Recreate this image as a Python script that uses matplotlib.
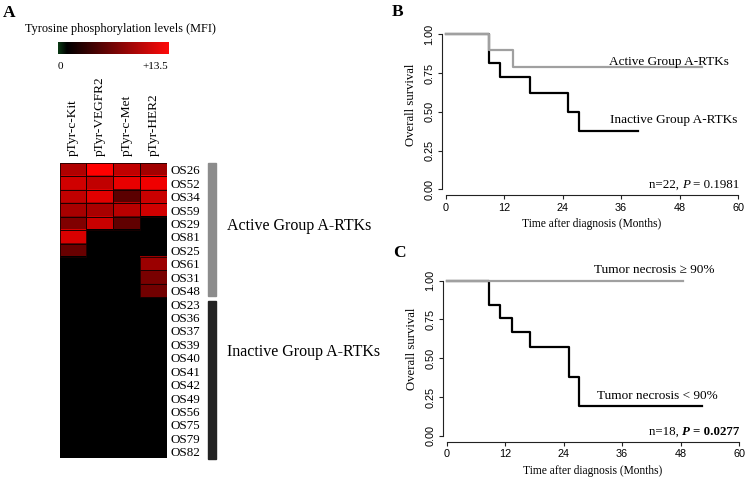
import numpy as np
import matplotlib
matplotlib.use("Agg")
import matplotlib.pyplot as plt
from matplotlib.colors import LinearSegmentedColormap
from matplotlib.patches import Rectangle

plt.rcParams['font.family'] = ['Liberation Serif', 'DejaVu Serif']

# --- panel A data: tyrosine phosphorylation (MFI, 0 .. 13.5)
receptors = ["pTyr-c-Kit", "pTyr-VEGFR2", "pTyr-c-Met", "pTyr-HER2"]
samples = ["OS26", "OS52", "OS34", "OS59", "OS29", "OS81", "OS25", "OS61", "OS31", "OS48",
           "OS23", "OS36", "OS37", "OS39", "OS40", "OS41", "OS42", "OS49", "OS56", "OS75",
           "OS79", "OS82"]
mfi = [
    [9.3, 13.5, 10.2, 8.5],
    [11.0, 10.2, 12.3, 12.7],
    [10.2, 11.9, 4.8, 10.6],
    [8.9, 8.9, 9.8, 11.0],
    [6.8, 10.6, 5.1, 0],
    [11.4, 0, 0, 0],
    [5.5, 0, 0, 0],
    [0, 0, 0, 8.2],
    [0, 0, 0, 6.4],
    [0, 0, 0, 6.0],
] + [[0, 0, 0, 0]] * 12
groups = ["Active Group A-RTKs", "Inactive Group A-RTKs"]
group_sizes = [10, 12]
group_colors = ["#8c8c8c", "#232323"]
mfi_max = 13.5

# --- panel B: Kaplan-Meier by A-RTK group (step times in months, survival)
b_active_t = [0, 8.9, 13.9, 52.7]
b_active_s = [1.0, 0.9, 0.7875, 0.7875]
b_inactive_t = [0, 8.9, 11.1, 17.4, 25.2, 27.4, 39.5]
b_inactive_s = [1.0, 0.818, 0.727, 0.623, 0.497, 0.373, 0.373]

# --- panel C: Kaplan-Meier by tumor necrosis
c_high_t = [0, 48.6]
c_high_s = [1.0, 1.0]
c_low_t = [0, 8.7, 10.9, 13.5, 17.2, 25.0, 27.2, 52.5]
c_low_s = [1.0, 0.846, 0.761, 0.666, 0.571, 0.381, 0.190, 0.190]

W, H = 748, 479
fig = plt.figure(figsize=(W / 100, H / 100), dpi=100)


def box(x0, y0, x1, y1):
    # pixel box (top-left origin) -> figure fraction
    return [x0 / W, 1 - y1 / H, (x1 - x0) / W, (y1 - y0) / H]


# ---------------- panel A ----------------
heat_cmap = LinearSegmentedColormap.from_list("blkred", ["#000000", "#ff0000"])
bar_cmap = LinearSegmentedColormap.from_list(
    "gbr", [(0, "#0b3a14"), (0.08, "#000000"), (1, "#ff0a0a")])

axh = fig.add_axes(box(59.7, 163, 166.7, 458.5))
data = np.array(mfi)
axh.imshow(data, cmap=heat_cmap, vmin=0, vmax=mfi_max, aspect='auto',
           interpolation='nearest')
# thin dark borders around coloured cells
for i in range(data.shape[0]):
    for j in range(data.shape[1]):
        if data[i, j] > 0:
            axh.add_patch(Rectangle((j - 0.5, i - 0.5), 1, 1, fill=False,
                                    ec='#1a0000', lw=0.6))
axh.set_xticks(range(len(receptors)))
axh.set_xticklabels(receptors, rotation=90, fontsize=9.6)
axh.xaxis.tick_top()
axh.set_yticks(range(len(samples)))
axh.set_yticklabels(samples, fontsize=9.4)
axh.yaxis.tick_right()
axh.tick_params(length=0, pad=2.5)
axh.tick_params(axis='x', pad=5)
for s in axh.spines.values():
    s.set_visible(False)

# group bars beside the row labels
start = 0
label_y = [4.2, 13.6]
for k, (g, n, c) in enumerate(zip(groups, group_sizes, group_colors)):
    top = start - 0.5 + (0.0 if k == 0 else 0.25)
    bottom = start + n - 0.5 - (0.1 if k == 0 else 0.0)
    axh.add_patch(Rectangle((5.05, top), 0.31, bottom - top, color=c,
                            clip_on=False))
    axh.text(5.77, label_y[k], g, fontsize=11.5, va='center', ha='left',
             clip_on=False)
    start += n

# colour bar
axc = fig.add_axes(box(57.5, 42, 168.3, 54.3))
grad = np.linspace(0, 1, 256).reshape(1, -1)
axc.imshow(grad, cmap=bar_cmap, aspect='auto')
axc.set_xticks([])
axc.set_yticks([])
for s in axc.spines.values():
    s.set_visible(False)
axc.text(0.03, -0.6, "0", transform=axc.transAxes, ha='center', va='top',
         fontsize=8)
axc.text(1.0, -0.6, "+13.5", transform=axc.transAxes, ha='right', va='top',
         fontsize=8)
fig.text(120 / W, 1 - 29 / H, "Tyrosine phosphorylation levels (MFI)",
         ha='center', va='center', fontsize=8.8)

fig.text(3 / W, 1 - 13 / H, "A", fontsize=12.5, fontweight='bold',
         ha='left', va='center')
fig.text(392 / W, 1 - 12.5 / H, "B", fontsize=12.5, fontweight='bold',
         ha='left', va='center')
fig.text(393 / W, 1 - 253 / H, "C", fontsize=12.5, fontweight='bold',
         ha='left', va='center')


# ---------------- KM panels ----------------
def km_axes(rect, ylab_y, xlab_y):
    ax = fig.add_axes(rect)
    ax.set_xlim(-0.8, 61)
    ax.set_ylim(-0.037, 1.04)
    for s in ['top', 'right']:
        ax.spines[s].set_visible(False)
    ax.spines['left'].set_bounds(0, 1)
    ax.spines['bottom'].set_bounds(0, 60)
    for s in ['left', 'bottom']:
        ax.spines[s].set_linewidth(0.8)
        ax.spines[s].set_color('#222222')
    ax.set_xticks([0, 12, 24, 36, 48, 60])
    ax.set_yticks([0, 0.25, 0.5, 0.75, 1.0])
    ax.set_yticklabels(["0.00", "0.25", "0.50", "0.75", "1.00"], rotation=90,
                       va='center')
    ax.tick_params(length=3, width=0.8, color='#222222', pad=2.5,
                   labelsize=7.8)
    for lab in ax.get_xticklabels() + ax.get_yticklabels():
        lab.set_fontfamily(['Liberation Sans', 'DejaVu Sans'])
    ax.set_ylabel("Overall survival", fontsize=9.2)
    ax.set_xlabel("Time after diagnosis (Months)", fontsize=8.3)
    ax.yaxis.set_label_coords(-0.082, ylab_y)
    ax.xaxis.set_label_coords(0.499, xlab_y)
    return ax


def pvalue(ax, x, y, n_txt, p_txt, bold, size):
    w = 'bold' if bold else 'normal'
    t1 = ax.text(x, y, p_txt, ha='right', va='bottom', fontsize=size,
                 fontweight=w)
    t2 = ax.annotate("P ", xy=(0, 0), xycoords=t1, ha='right', va='bottom',
                     fontsize=size, fontweight=w, fontstyle='italic')
    ax.annotate(n_txt, xy=(0, 0), xycoords=t2, ha='right', va='bottom',
                fontsize=size)


axb = km_axes(box(441.8, 28.1, 742.9, 195), 0.539, -0.14)
axb.step(b_inactive_t, b_inactive_s, where='post', color='black', lw=1.6)
axb.step(b_active_t, b_active_s, where='post', color='#a0a0a0', lw=1.6)
axb.text(58.1, 0.805, "Active Group A-RTKs", ha='right', va='baseline',
         fontsize=9.5)
axb.text(33.7, 0.43, "Inactive Group A-RTKs", ha='left', va='baseline',
         fontsize=9.5)
pvalue(axb, 60.3, -0.012, "n=22, ", "= 0.1981", False, 9.4)

axc2 = km_axes(box(442.8, 274.4, 743.9, 441.7), 0.554, -0.14)
axc2.step(c_low_t, c_low_s, where='post', color='black', lw=1.6)
axc2.step(c_high_t, c_high_s, where='post', color='#a0a0a0', lw=1.6)
axc2.text(54.9, 1.048, "Tumor necrosis \u2265 90%", ha='right', va='baseline',
          fontsize=9.5)
axc2.text(55.7, 0.236, "Tumor necrosis < 90%", ha='right', va='baseline',
          fontsize=9.5)
pvalue(axc2, 60.05, -0.012, "n=18, ", "= 0.0277", True, 9.3)

fig.savefig("out.png", dpi=100)
